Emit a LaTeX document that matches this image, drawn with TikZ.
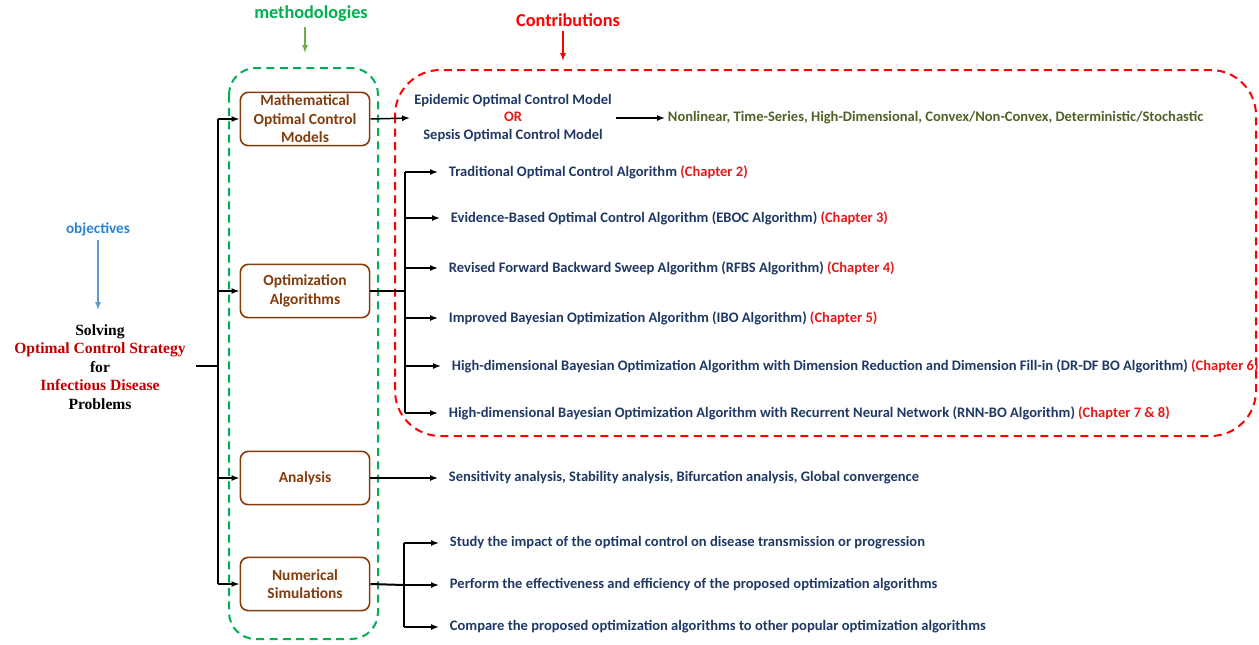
\documentclass[tikz,border=0pt]{standalone}
\usepackage{fontspec}
\setmainfont{Carlito}
\newfontfamily\titlefont{Liberation Serif}
\usetikzlibrary{arrows.meta,positioning,calc}
\definecolor{objblue}{RGB}{40,130,210}
\definecolor{objarrow}{RGB}{91,155,213}
\definecolor{methgreen}{RGB}{0,176,80}
\definecolor{metharrow}{RGB}{112,173,71}
\definecolor{methbrown}{RGB}{132,60,12}
\definecolor{contred}{RGB}{255,0,0}
\definecolor{chapred}{RGB}{230,25,25}
\definecolor{titlered}{RGB}{192,0,0}
\definecolor{itemblue}{RGB}{31,56,100}
\definecolor{propgreen}{RGB}{79,98,40}

\begin{document}
\begin{tikzpicture}[x=0.75pt,y=-0.75pt,>={Latex[length=6pt,width=4.5pt]},
 font=\bfseries\fontsize{10.9}{13}\selectfont,
 method/.style={draw=methbrown,line width=1.2pt,rounded corners=6pt,fill=white,
   minimum width=97pt,minimum height=40pt,align=center,text=methbrown,inner sep=1pt,
   font=\bfseries\fontsize{11.6}{13.9}\selectfont},
 item/.style={anchor=west,inner xsep=8pt,inner ysep=1pt,text=itemblue},
 link/.style={line width=1.5pt},
 arr/.style={line width=1.1pt,->}]
 \useasboundingbox (0,0) rectangle (1259,644);
 % frames
 \draw[methgreen,dashed,dash pattern=on 6pt off 4pt,line width=1.5pt,rounded corners=20pt]
   (229,68) rectangle (378,639);
 \draw[contred,dashed,dash pattern=on 6pt off 4pt,line width=1.5pt,rounded corners=34pt]
   (395,70) rectangle (1256,436);
 % headers
 \node[text=objblue,font=\bfseries\fontsize{11.4}{13}\selectfont] (obj) at (98,229) {objectives};
 \node[text=methgreen,font=\bfseries\fontsize{13.7}{15}\selectfont] (meth) at (311,14) {methodologies};
 \node[text=contred,font=\bfseries\fontsize{13.7}{15}\selectfont] (cont) at (568,20) {Contributions};
 \coordinate (methtip) at (305,53);
 \coordinate (conttip) at (563,61);
 \draw[metharrow,line width=1pt,->] (meth.south -| methtip) -- (methtip);
 \draw[contred,line width=1pt,->] (cont.south -| conttip) -- (conttip);
 % goal
 \node[align=center,font=\titlefont\bfseries\fontsize{11.7}{13.9}\selectfont] (goal) at (100,367)
   {Solving\\\textcolor{titlered}{Optimal Control Strategy}\\for\\
    \textcolor{titlered}{Infectious Disease}\\Problems};
 \draw[objarrow,line width=1pt,->] (obj.south) -- (98,310);
 % methodologies
 \node[method] (mom) at (305,119) {Mathematical\\Optimal Control\\Models};
 \node[method] (opt) at (305,291) {Optimization\\Algorithms};
 \node[method] (ana) at (305,478) {Analysis};
 \node[method] (sim) at (305,584) {Numerical\\Simulations};
 \coordinate (stub) at (196,366);
 \coordinate (trunk) at (218,366);
 \draw[link] (stub) -- (trunk);
 \draw[link] (trunk |- mom) -- (trunk |- sim);
 \foreach \m in {mom,opt,ana,sim}
   \draw[arr] (trunk |- \m) -- (\m.west);
 % models
 \node[align=center,text=itemblue,inner xsep=3pt,font=\bfseries\fontsize{10.9}{12.8}\selectfont] (model) at (513,118)
   {Epidemic Optimal Control Model\\\textcolor{chapred}{OR}\\Sepsis Optimal Control Model};
 \node[anchor=west,text=propgreen,inner xsep=2pt] (prop) at (665,118)
   {Nonlinear, Time-Series, High-Dimensional, Convex/Non-Convex, Deterministic/Stochastic};
 \draw[arr] (mom.east) -- (model.west);
 \draw[arr] (model.east) -- (prop.west);
 % algorithms
 \node[item] (alg1) at (438,172) {Traditional Optimal Control Algorithm \textcolor{chapred}{(Chapter 2)}};
 \node[item] (alg2) at (440,218) {Evidence-Based Optimal Control Algorithm (EBOC Algorithm) \textcolor{chapred}{(Chapter 3)}};
 \node[item] (alg3) at (438,268) {Revised Forward Backward Sweep Algorithm (RFBS Algorithm) \textcolor{chapred}{(Chapter 4)}};
 \node[item] (alg4) at (438,318) {Improved Bayesian Optimization Algorithm (IBO Algorithm) \textcolor{chapred}{(Chapter 5)}};
 \node[item] (alg5) at (441,366) {High-dimensional Bayesian Optimization Algorithm with Dimension Reduction and Dimension Fill-in (DR-DF BO Algorithm) \textcolor{chapred}{(Chapter 6)}};
 \node[item] (alg6) at (438,413) {High-dimensional Bayesian Optimization Algorithm with Recurrent Neural Network (RNN-BO Algorithm) \textcolor{chapred}{(Chapter 7 \& 8)}};
 \coordinate (b2) at (405,291);
 \draw[link] (opt.east) -- (b2);
 \draw[link] (b2 |- alg1) -- (b2 |- alg6);
 \foreach \a in {alg1,alg2,alg3,alg4,alg5,alg6}
   \draw[arr] (b2 |- \a) -- (\a.west);
 % analysis
 \node[item] (anat) at (438,478) {Sensitivity analysis, Stability analysis, Bifurcation analysis, Global convergence};
 \draw[arr] (ana.east) -- (anat.west);
 % simulations
 \node[item] (sim1) at (439,543) {Study the impact of the optimal control on disease transmission or progression};
 \node[item] (sim2) at (439,585) {Perform the effectiveness and efficiency of the proposed optimization algorithms};
 \node[item] (sim3) at (439,627) {Compare the proposed optimization algorithms to other popular optimization algorithms};
 \coordinate (b4) at (404,585);
 \draw[link] (sim.east) -- (b4);
 \draw[link] (b4 |- sim1) -- (b4 |- sim3);
 \foreach \s in {sim1,sim2,sim3}
   \draw[arr] (b4 |- \s) -- (\s.west);
\end{tikzpicture}
\end{document}
